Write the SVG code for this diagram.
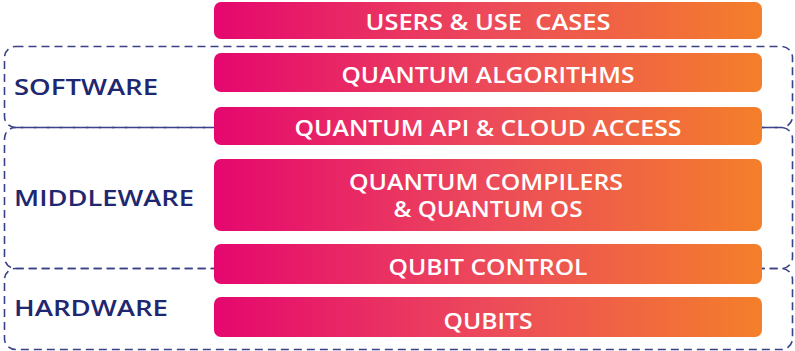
<svg xmlns="http://www.w3.org/2000/svg" width="795" height="351" viewBox="0 0 795 351">
  <defs>
    <linearGradient id="barGrad" x1="0" y1="0" x2="1" y2="0">
      <stop offset="0" stop-color="#E5076F"/>
      <stop offset="0.5" stop-color="#EC4A5A"/>
      <stop offset="1" stop-color="#F47F2A"/>
    </linearGradient>
    <style>
      .zone { fill: none; stroke: #3A4287; stroke-width: 1.6; stroke-dasharray: 8 5; }
      .bar { fill: url(#barGrad); }
      .bar-text { fill: #FFFFFF; font-family: "Open Sans", "Liberation Sans", sans-serif; font-weight: 600; font-size: 21px; text-anchor: middle; }
      .zone-label { fill: #1E2770; font-family: "Open Sans", "Liberation Sans", sans-serif; font-weight: 600; font-size: 22px; }
    </style>
  </defs>

  <!-- layer zones (dashed outlines) -->
  <g id="zones">
    <rect class="zone" x="4.5" y="46.5" width="788" height="81" rx="11"/>
    <rect class="zone" x="4.5" y="127.5" width="788" height="141" rx="11"/>
    <rect class="zone" x="4.5" y="268.5" width="788" height="81" rx="11"/>
  </g>

  <g id="zone-labels">
    <text class="zone-label" x="14" y="95" textLength="144" lengthAdjust="spacingAndGlyphs">SOFTWARE</text>
    <text class="zone-label" x="14" y="206" textLength="180" lengthAdjust="spacingAndGlyphs">MIDDLEWARE</text>
    <text class="zone-label" x="14" y="316" textLength="154" lengthAdjust="spacingAndGlyphs">HARDWARE</text>
  </g>

  <!-- stack bars -->
  <g id="users">
    <rect class="bar" x="214" y="2" width="548" height="37" rx="7"/>
    <text class="bar-text" x="488" y="30" xml:space="preserve" textLength="245" lengthAdjust="spacingAndGlyphs">USERS &amp; USE  CASES</text>
  </g>
  <g id="algorithms">
    <rect class="bar" x="214" y="53" width="548" height="39" rx="7"/>
    <text class="bar-text" x="488" y="83" textLength="293" lengthAdjust="spacingAndGlyphs">QUANTUM ALGORITHMS</text>
  </g>
  <g id="api">
    <rect class="bar" x="214" y="107" width="548" height="38" rx="7"/>
    <text class="bar-text" x="488" y="136" textLength="387" lengthAdjust="spacingAndGlyphs">QUANTUM API &amp; CLOUD ACCESS</text>
  </g>
  <g id="compilers">
    <rect class="bar" x="214" y="159" width="548" height="72" rx="7"/>
    <text class="bar-text" x="486" y="190" textLength="274" lengthAdjust="spacingAndGlyphs">QUANTUM COMPILERS</text>
    <text class="bar-text" x="488" y="217" textLength="189" lengthAdjust="spacingAndGlyphs">&amp; QUANTUM OS</text>
  </g>
  <g id="qubit-control">
    <rect class="bar" x="214" y="244" width="548" height="40" rx="7"/>
    <text class="bar-text" x="488" y="275" textLength="199" lengthAdjust="spacingAndGlyphs">QUBIT CONTROL</text>
  </g>
  <g id="qubits">
    <rect class="bar" x="214" y="297" width="548" height="40" rx="7"/>
    <text class="bar-text" x="488" y="329" textLength="89" lengthAdjust="spacingAndGlyphs">QUBITS</text>
  </g>
</svg>
